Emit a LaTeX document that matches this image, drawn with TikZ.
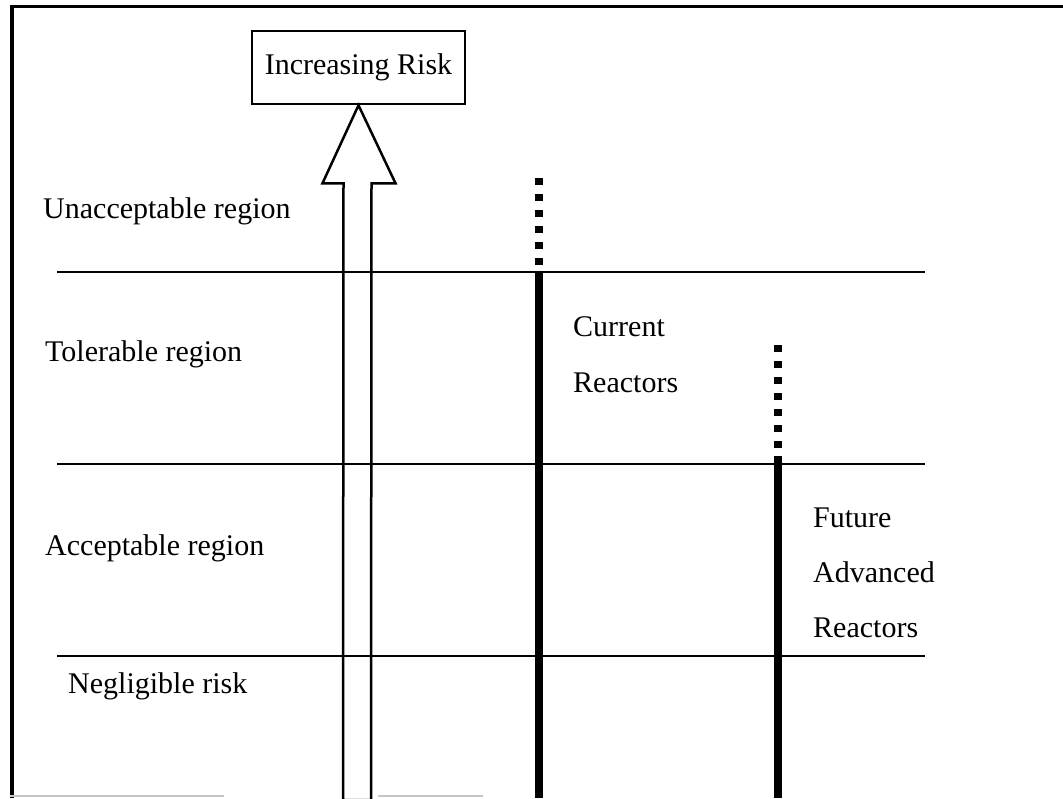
\documentclass[tikz,border=0pt]{standalone}
\usepackage{fontspec}
\setmainfont{Liberation Serif}
\usetikzlibrary{calc}
\begin{document}
\begin{tikzpicture}[x=1pt,y=-1pt,
  lbl/.style={anchor=base west,inner sep=0pt,font=\fontsize{30}{36}\selectfont},
  band/.style={line width=2.5pt},
  bar/.style={line width=8pt},
  barfade/.style={line width=8pt,dash pattern=on 7pt off 9pt},
  frame/.style={line width=3.5pt}]
\useasboundingbox (0,0) rectangle (1063,798);
% frame (left and top edges)
\coordinate (fbl) at (12,798);
\coordinate (ftl) at (12,6.5);
\coordinate (ftr) at (1063,6.5);
\draw[frame] (fbl) -- (ftl) -- (ftr);
\coordinate (b1) at (10,796); \coordinate (b2) at (224,796);
\coordinate (b3) at (378,796); \coordinate (b4) at (483,796);
\draw[gray!45,line width=1.5pt] (b1) -- (b2) (b3) -- (b4);

% title box
\node[draw,line width=2.5pt,minimum width=213pt,minimum height=73pt,inner sep=0pt,
      font=\fontsize{30}{36}\selectfont] (risk) at (358.5,67.5) {Increasing Risk};

% hollow block arrow rising into the box
\coordinate (tip) at (risk.south);
\coordinate (base) at (358,800);
\draw[line width=2.5pt,fill=white]
  (tip) -- ($(tip)+(-36,78)$) -- ($(tip)+(-15,78)$) -- ($(base)+(-15,0)$)
  -- ($(base)+(13,0)$) -- ($(tip)+(13,78)$) -- ($(tip)+(37,78)$) -- cycle;

% region boundaries
\coordinate (l1w) at (57,272); \coordinate (l1e) at (925,272);
\coordinate (l2w) at (57,464); \coordinate (l2e) at (925,464);
\coordinate (l3w) at (57,656); \coordinate (l3e) at (925,656);
\draw[band] (l1w) -- (l1e);
\draw[band] (l2w) -- (l2e);
\draw[band] (l3w) -- (l3e);

% region labels
\node[lbl] (unacc) at (43,218) {Unacceptable region};
\node[lbl] (toler) at (45,361) {Tolerable region};
\node[lbl] (accep) at (45,555) {Acceptable region};
\node[lbl] (negl)  at (68,693) {Negligible risk};

% current reactors range
\coordinate (cTop) at (539,178);
\coordinate (cMid) at (539,268);
\coordinate (cSol) at (539,271);
\coordinate (cBot) at (539,798);
\draw[barfade] (cTop) -- (cMid);
\draw[bar] (cSol) -- (cBot);
\node[lbl] (cur1) at (573,336) {Current};
\node[lbl] (cur2) at (573,392) {Reactors};

% future advanced reactors range
\coordinate (fTop) at (778,345);
\coordinate (fMid) at (778,452);
\coordinate (fSol) at (778,456);
\coordinate (fBot) at (778,798);
\draw[barfade] (fTop) -- (fMid);
\draw[bar] (fSol) -- (fBot);
\node[lbl] (fut1) at (813,527) {Future};
\node[lbl] (fut2) at (813,582) {Advanced};
\node[lbl] (fut3) at (813,637) {Reactors};
\end{tikzpicture}
\end{document}
